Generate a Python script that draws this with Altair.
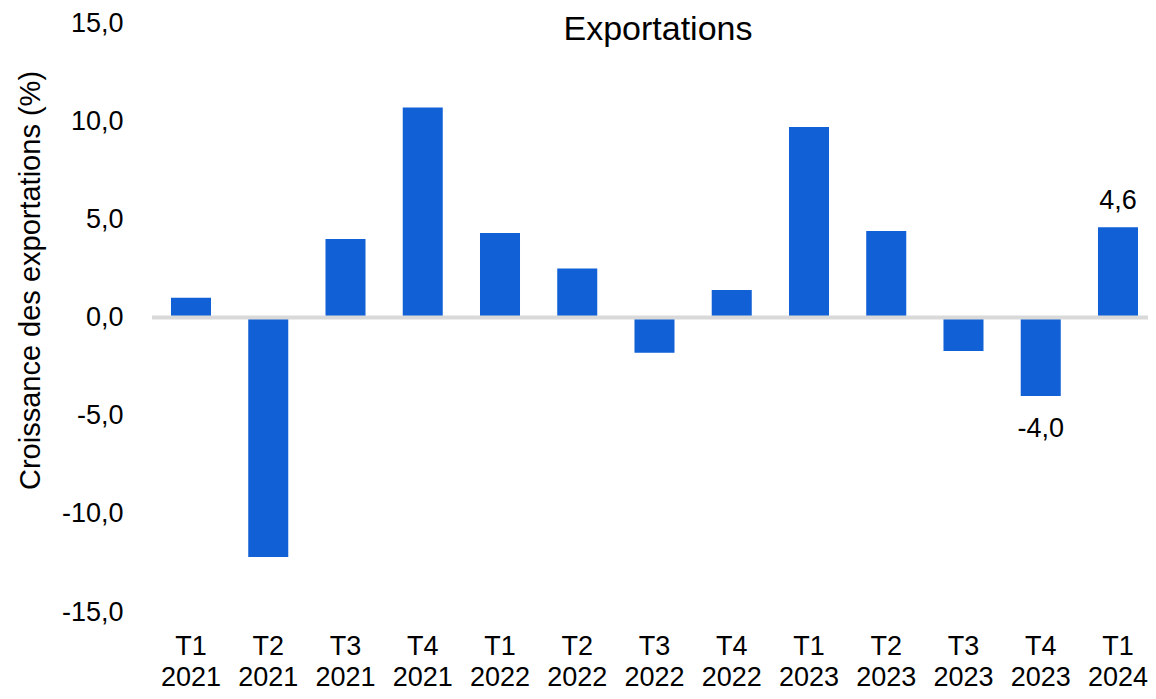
import altair as alt
import pandas as pd

quarters = ["T1 2021", "T2 2021", "T3 2021", "T4 2021", "T1 2022", "T2 2022", "T3 2022",
            "T4 2022", "T1 2023", "T2 2023", "T3 2023", "T4 2023", "T1 2024"]
values = [1.0, -12.2, 4.0, 10.7, 4.3, 2.5, -1.8, 1.4, 9.7, 4.4, -1.7, -4.0, 4.6]
bar_labels = ["", "", "", "", "", "", "", "", "", "", "", "-4,0", "4,6"]
y_ticks = [-15, -10, -5, 0, 5, 10, 15]
chart_title = ["Exportations"]

FONT = "Liberation Sans"
BLUE = "#1160D6"
W, H = 996, 589

df = pd.DataFrame({"q": quarters, "v": values, "lab": bar_labels})
zero_df = pd.DataFrame({"z": [0]})
title_df = pd.DataFrame({"t": chart_title})

x = alt.X(
    "q:N",
    sort=quarters,
    scale=alt.Scale(paddingInner=0.482, paddingOuter=0.1877, align=0.655),
    axis=alt.Axis(
        title=None,
        labelExpr="split(datum.label, ' ')",
        labelAngle=0,
        ticks=False,
        domain=False,
        labelFont=FONT,
        labelFontSize=27,
        labelLineHeight=31,
        labelPadding=21,
        labelColor="#000000",
    ),
)
y = alt.Y(
    "v:Q",
    scale=alt.Scale(domain=[-15, 15], nice=False, zero=False),
    axis=alt.Axis(
        values=y_ticks,
        labelExpr="datum.value + ',0'",
        grid=False,
        domain=False,
        ticks=False,
        labelFont=FONT,
        labelFontSize=27,
        labelColor="#000000",
        labelPadding=29,
        title="Croissance des exportations (%)",
        titleFont=FONT,
        titleFontSize=29,
        titleFontWeight="normal",
        titleColor="#000000",
        titleBaseline="middle",
        titleX=-122,
        titleY=257,
    ),
)

base = alt.Chart(df)
bars = base.mark_bar(color=BLUE).encode(x=x, y=y)
zero = alt.Chart(zero_df).mark_rule(color="#D9D9D9", strokeWidth=4).encode(y=alt.Y("z:Q"))
pos_lab = base.transform_filter("datum.lab != '' && datum.v > 0").mark_text(
    font=FONT, fontSize=27, color="#000000", baseline="alphabetic", dy=-18
).encode(x=x, y=y, text="lab:N")
neg_lab = base.transform_filter("datum.lab != '' && datum.v < 0").mark_text(
    font=FONT, fontSize=27, color="#000000", baseline="alphabetic", dy=41
).encode(x=x, y=y, text="lab:N")
title = alt.Chart(title_df).mark_text(
    font=FONT, fontSize=34, color="#000000", baseline="alphabetic", align="center"
).encode(text="t:N", x=alt.value(506), y=alt.value(17))

chart = (
    alt.layer(bars, zero, pos_lab, neg_lab, title)
    .properties(
        width=W,
        height=H,
        autosize=alt.AutoSizeParams(type="none"),
        padding={"left": 144, "top": 15, "right": 0, "bottom": 79},
        background="white",
    )
    .configure_view(stroke="transparent", strokeWidth=0)
)

chart.save("out.html", embed_options={"renderer": "svg", "actions": False})
